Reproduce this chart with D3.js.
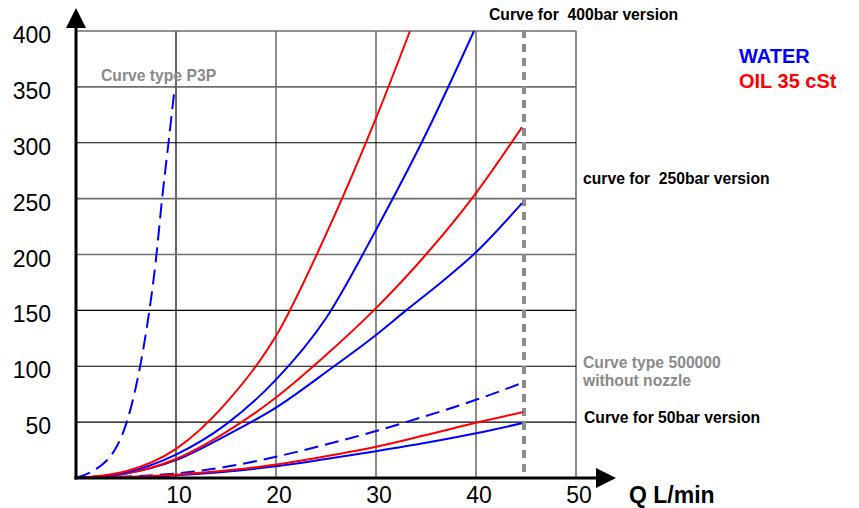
<!DOCTYPE html>
<html>
<head>
<meta charset="utf-8">
<script src="https://cdn.jsdelivr.net/npm/d3@7"></script>
<style>
  html, body { margin: 0; padding: 0; background: #fff; }
  svg { display: block; font-family: Arial, "Liberation Sans", sans-serif; }
  text { white-space: pre; }
</style>
</head>
<body>
<svg id="chart" width="859" height="508"></svg>
<script>
// ---- data (x = Q L/min, y = pressure bar) ----
const xTicks = [10, 20, 30, 40, 50];
const yTicks = [50, 100, 150, 200, 250, 300, 350, 400];

const p3pWater = [[0,0],[2,8],[3,15],[4,27],[5,48],[6,82],[7,130],[8,196],[8.6,249],[9.25,300],[9.88,350]];
const oil400 = [[0,0],[5,6],[10,26],[15,67],[20,127],[25,218],[30,322],[33.4,400]];
const water400 = [[0,0],[5,5],[10,21],[15,48],[20,88],[25,143],[30,222],[35,308],[39.8,400]];
const oil250 = [[0,0],[5,4],[10,17],[15,41],[20,72],[25,110],[30,152],[35,200],[40,255],[44.6,314]];
const water250 = [[0,0],[5,4],[10,16],[15,38],[20,63],[25.5,98],[30,128],[33,150],[36.5,175],[40,202],[44.6,246]];
const water500000 = [[0,0],[10,4],[15,10],[20,19],[25,30],[30,42],[33,50],[40,70],[44.6,85]];
const oil50 = [[0,0],[10,3],[20,12],[25,19.5],[30,28],[35,38.5],[40,49.5],[44.7,59]];
const water50 = [[0,0],[10,2.5],[20,10.5],[25,17],[30,24],[35,31.5],[40,40],[44.6,49]];
const maxFlow = 44.8;

const annotations = [
  {text: "Curve for  400bar version", x: 489, y: 20, color: "#000", size: 15.7},
  {text: "curve for  250bar version", x: 583, y: 184, color: "#000", size: 15.7},
  {text: "Curve type 500000", x: 583, y: 368, color: "#8a8a8a", size: 15.7},
  {text: "without nozzle", x: 583, y: 386, color: "#8a8a8a", size: 15.7},
  {text: "Curve for 50bar version", x: 584, y: 423, color: "#000", size: 15.7},
  {text: "Curve type P3P", x: 101, y: 81, color: "#8a8a8a", size: 15.7},
  {text: "WATER", x: 739, y: 63, color: "#0000ff", size: 20},
  {text: "OIL 35 cSt", x: 739, y: 88, color: "#ff0000", size: 20}
];

// ---- drawing ----
const svg = d3.select("#chart");
const x = d3.scaleLinear().domain([0, 50]).range([76, 576]);
const y = d3.scaleLinear().domain([0, 400]).range([478, 31]);

// grid
const darkV = new Set([10]);
const darkH = new Set([300, 150, 100, 50]);
svg.append("g").selectAll("line").data(xTicks).join("line")
  .attr("x1", d => x(d)).attr("x2", d => x(d))
  .attr("y1", y(0)).attr("y2", y(400))
  .attr("stroke", d => darkV.has(d) ? "#000" : "#6e6e6e")
  .attr("stroke-width", d => darkV.has(d) ? 1.2 : 1.6);
svg.append("g").selectAll("line").data(yTicks).join("line")
  .attr("x1", x(0)).attr("x2", x(50))
  .attr("y1", d => y(d)).attr("y2", d => y(d))
  .attr("stroke", d => darkH.has(d) ? "#000" : "#6e6e6e")
  .attr("stroke-width", d => darkH.has(d) ? 1.2 : 1.6);

// tick labels
svg.append("g").selectAll("text").data(yTicks).join("text")
  .attr("x", 51).attr("y", d => y(d) + 12)
  .attr("text-anchor", "end").attr("font-size", 23).attr("fill", "#000")
  .text(d => d);
svg.append("g").selectAll("text").data(xTicks).join("text")
  .attr("x", d => x(d) + 3).attr("y", 503)
  .attr("text-anchor", "middle").attr("font-size", 23).attr("fill", "#000")
  .text(d => d);

// vertical max-flow line
svg.append("line")
  .attr("x1", x(maxFlow)).attr("x2", x(maxFlow))
  .attr("y1", y(400) - 1).attr("y2", y(0))
  .attr("stroke", "#8c8c8c").attr("stroke-width", 4)
  .attr("stroke-dasharray", "8,6");

// curves
const line = d3.line().x(d => x(d[0])).y(d => y(d[1])).curve(d3.curveMonotoneX);
const series = [
  {data: water500000, color: "#0000ff", dash: "14,7"},
  {data: water50, color: "#0000ff"},
  {data: oil50, color: "#ff0000"},
  {data: water250, color: "#0000ff"},
  {data: oil250, color: "#ff0000"},
  {data: water400, color: "#0000ff"},
  {data: oil400, color: "#ff0000"},
  {data: p3pWater, color: "#0000ff", dash: "15,7"}
];
svg.append("g").selectAll("path").data(series).join("path")
  .attr("d", d => line(d.data))
  .attr("fill", "none")
  .attr("stroke", d => d.color)
  .attr("stroke-width", 2)
  .attr("stroke-dasharray", d => d.dash || null);

// axes with arrows
svg.append("line").attr("x1", x(0)).attr("x2", x(0)).attr("y1", y(0) + 1.5).attr("y2", 28)
  .attr("stroke", "#000").attr("stroke-width", 3);
svg.append("line").attr("x1", x(0) - 1.5).attr("x2", 597).attr("y1", y(0)).attr("y2", y(0))
  .attr("stroke", "#000").attr("stroke-width", 3);
svg.append("path").attr("d", `M${x(0) - 10},28 L${x(0) + 10},28 L${x(0)},8 Z`).attr("fill", "#000");
svg.append("path").attr("d", `M596,${y(0) - 10} L596,${y(0) + 10} L616,${y(0)} Z`).attr("fill", "#000");

svg.append("text").attr("x", 629).attr("y", 503)
  .attr("font-size", 23).attr("font-weight", "bold").attr("fill", "#000")
  .text("Q L/min");

// annotations
svg.append("g").selectAll("text").data(annotations).join("text")
  .attr("x", d => d.x).attr("y", d => d.y)
  .attr("font-size", d => d.size).attr("font-weight", "bold")
  .attr("fill", d => d.color)
  .text(d => d.text);
</script>
</body>
</html>
